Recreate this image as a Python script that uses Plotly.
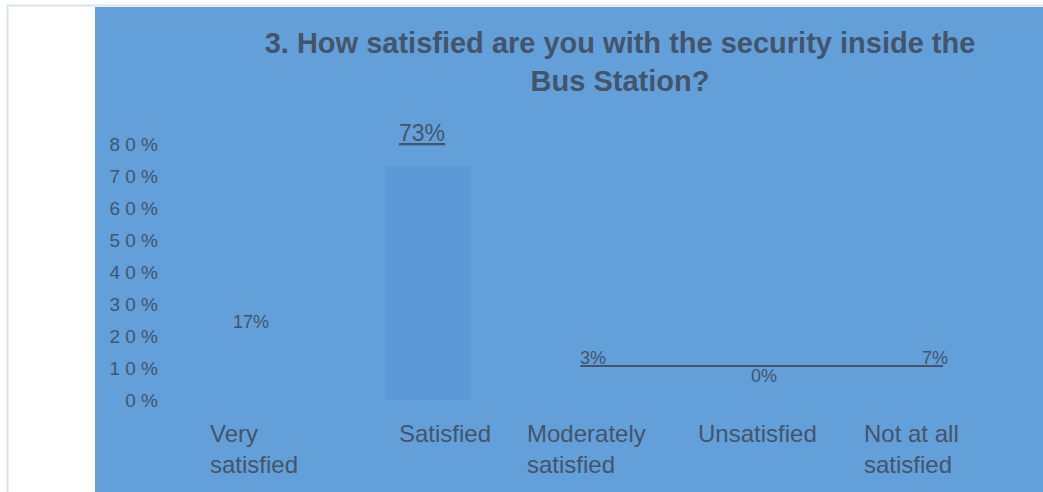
import plotly.graph_objects as go

# Survey answers and their shares
categories = ["Very satisfied", "Satisfied", "Moderately satisfied", "Unsatisfied", "Not at all satisfied"]
category_labels = ["Very<br>satisfied", "Satisfied", "Moderately<br>satisfied", "Unsatisfied", "Not at all<br>satisfied"]
shares = [0.17, 0.73, 0.03, 0.00, 0.07]
share_labels = ["17%", "73%", "3%", "0%", "7%"]
y_tick_values = [0.0, 0.1, 0.2, 0.3, 0.4, 0.5, 0.6, 0.7, 0.8]
y_tick_labels = ["0 %", "1 0 %", "2 0 %", "3 0 %", "4 0 %", "5 0 %", "6 0 %", "7 0 %", "8 0 %"]

W, H = 1043, 492
ML, MR, MT, MB = 165, 23, 128, 92
PW, PH = W - ML - MR, H - MT - MB

BLUE = "#63a0d9"
TEXT = "#44546a"
FONT = "Liberation Sans, Arial, sans-serif"

# label placement tweaks (pixels)
value_label_lift = [24, 33, 32, 24, 20]
category_label_shift = [3, 23, -6, -6, -23]


def px_x(px):
    return (px - ML) / PW


def px_y(py):
    return (H - MB - py) / PH


bar_colors = ["rgba(0,0,0,0)", "#5b9ad7", "rgba(0,0,0,0)", "rgba(0,0,0,0)", "rgba(0,0,0,0)"]

fig = go.Figure(
    go.Bar(
        x=categories,
        y=shares,
        width=0.5,
        offset=-0.21,
        marker=dict(color=bar_colors, line=dict(width=0)),
        hoverinfo="skip",
    )
)

annotations = []
for cat, val, lab, lift in zip(categories, shares, share_labels, value_label_lift):
    big = lab == "73%"
    annotations.append(
        dict(
            x=cat, y=val, xref="x", yref="y",
            text=lab, showarrow=False,
            yshift=lift, yanchor="middle",
            font=dict(family=FONT, size=23 if big else 18, color=TEXT,
                      lineposition="under" if big else "none"),
        )
    )
for cat, lab, dx in zip(categories, category_labels, category_label_shift):
    annotations.append(
        dict(
            x=cat, y=0, xref="x", yref="paper",
            text=lab, showarrow=False, align="left",
            xanchor="center", yanchor="top", yshift=-18, xshift=dx,
            font=dict(family=FONT, size=24, color=TEXT),
        )
    )

shapes = [
    # white side panel and top strip
    dict(type="rect", xref="paper", yref="paper", x0=px_x(0), x1=px_x(95),
         y0=px_y(H), y1=px_y(0), fillcolor="white", line=dict(width=0), layer="below"),
    dict(type="rect", xref="paper", yref="paper", x0=px_x(0), x1=px_x(W),
         y0=px_y(7), y1=px_y(0), fillcolor="white", line=dict(width=0), layer="below"),
    # frame lines
    dict(type="line", xref="paper", yref="paper", x0=px_x(7.5), x1=px_x(7.5),
         y0=px_y(5), y1=px_y(H), line=dict(color="#dde2eb", width=2), layer="below"),
    dict(type="line", xref="paper", yref="paper", x0=px_x(7), x1=px_x(W),
         y0=px_y(5.5), y1=px_y(5.5), line=dict(color="#dde2eb", width=2), layer="below"),
    # underline beneath the small-share labels
    dict(type="line", xref="x", yref="y", x0=1.93, x1=4.05, y0=0.106, y1=0.106,
         line=dict(color=TEXT, width=2)),
]

fig.update_layout(
    width=W, height=H,
    margin=dict(l=ML, r=MR, t=MT, b=MB),
    paper_bgcolor=BLUE,
    plot_bgcolor=BLUE,
    showlegend=False,
    bargap=0.5,
    title=dict(
        text="<b>3. How satisfied are you with the security inside the<br>Bus Station?</b>",
        x=620 / W, xanchor="center", xref="container",
        y=1 - 53 / H, yanchor="top", yref="container",
        font=dict(family=FONT, size=29, color=TEXT),
    ),
    xaxis=dict(showticklabels=False, showgrid=False, zeroline=False, showline=False,
               ticks="", range=[-0.5, 4.5]),
    yaxis=dict(range=[0, PH / 320], tickvals=y_tick_values, ticktext=y_tick_labels,
               showgrid=False, zeroline=False, showline=False, ticks="",
               ticklabelstandoff=6,
               tickfont=dict(family=FONT, size=19, color=TEXT)),
    annotations=annotations,
    shapes=shapes,
)

fig.write_html("out.html")
